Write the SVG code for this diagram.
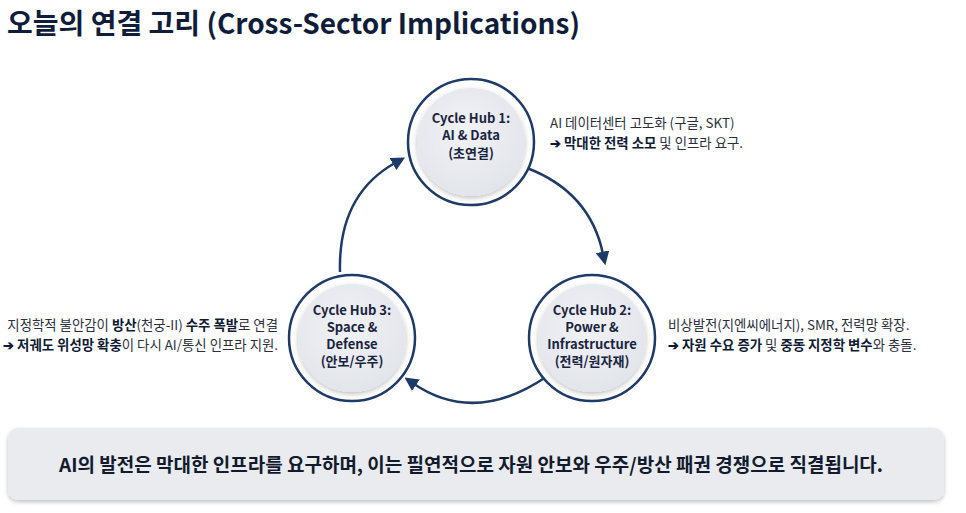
<svg xmlns="http://www.w3.org/2000/svg" width="966" height="513" viewBox="0 0 966 513">
<defs>
<style>
text{font-family:"Noto Sans CJK KR","Noto Sans",sans-serif;}
.title{font-size:28px;font-weight:700;fill:#0f1d3a;}
.hub{font-size:13px;font-weight:700;fill:#1a2440;text-anchor:middle;}
.desc{font-size:13.4px;fill:#2a2f3b;}
.b{font-weight:700;fill:#101a33;}
.ring{fill:#ffffff;stroke:#1e3a66;stroke-width:2.5;}
.core{fill:url(#g);filter:url(#sh);}
.conn{fill:none;stroke:#1e3a66;stroke-width:2.5;marker-end:url(#ah);}
.banner{fill:#e9ebef;filter:url(#bs);}
.btxt{font-size:19px;font-weight:700;fill:#121a2e;text-anchor:middle;}
</style>
<radialGradient id="g" cx="0.45" cy="0.4" r="0.65">
<stop offset="0" stop-color="#f1f2f5"/>
<stop offset="1" stop-color="#e1e4ea"/>
</radialGradient>
<filter id="sh" x="-30%" y="-30%" width="160%" height="160%">
<feDropShadow dx="0" dy="2" stdDeviation="2.5" flood-color="#000" flood-opacity="0.25"/>
</filter>
<filter id="bs" x="-5%" y="-30%" width="110%" height="160%">
<feDropShadow dx="0" dy="2" stdDeviation="2" flood-color="#000" flood-opacity="0.25"/>
</filter>
<marker id="ah" viewBox="0 0 12 12" refX="2" refY="6" markerWidth="5.5" markerHeight="5.5" orient="auto" markerUnits="strokeWidth">
<path d="M0,0 L12,6 L0,12 Z" fill="#1e3a66"/>
</marker>
</defs>
<rect width="966" height="513" fill="#ffffff"/>
<text class="title" x="7" y="34">오늘의 연결 고리 (Cross-Sector Implications)</text>

<g id="connectors">
<path class="conn" d="M527,168 Q590,192 603,254"/>
<path class="conn" d="M546,377 Q475,425 414,384"/>
<path class="conn" d="M340,272 Q338,195 395,163"/>
</g>

<g id="hub1">
<circle class="ring" cx="471" cy="142" r="63"/>
<circle class="core" cx="471" cy="142" r="54"/>
<text class="hub" x="471" y="123">Cycle Hub 1:</text>
<text class="hub" x="471" y="140">AI &amp; Data</text>
<text class="hub" x="471" y="158">(초연결)</text>
</g>

<g id="hub2">
<circle class="ring" cx="592" cy="338" r="63"/>
<circle class="core" cx="592" cy="338" r="54"/>
<text class="hub" x="592" y="315">Cycle Hub 2:</text>
<text class="hub" x="592" y="332">Power &amp;</text>
<text class="hub" x="592" y="349">Infrastructure</text>
<text class="hub" x="592" y="366">(전력/원자재)</text>
</g>

<g id="hub3">
<circle class="ring" cx="352" cy="338" r="63"/>
<circle class="core" cx="352" cy="338" r="54"/>
<text class="hub" x="352" y="315">Cycle Hub 3:</text>
<text class="hub" x="352" y="332">Space &amp;</text>
<text class="hub" x="352" y="349">Defense</text>
<text class="hub" x="352" y="366">(안보/우주)</text>
</g>

<g id="desc1">
<text class="desc" x="550" y="128">AI 데이터센터 고도화 (구글, SKT)</text>
<text class="desc" x="550" y="148"><tspan class="b">➔ 막대한 전력 소모</tspan> 및 인프라 요구.</text>
</g>

<g id="desc2">
<text class="desc" x="668" y="330">비상발전(지엔씨에너지), SMR, 전력망 확장.</text>
<text class="desc" x="668" y="350"><tspan class="b">➔ 자원 수요 증가</tspan> 및 <tspan class="b">중동 지정학 변수</tspan>와 충돌.</text>
</g>

<g id="desc3">
<text class="desc" x="278" y="330" text-anchor="end">지정학적 불안감이 <tspan class="b">방산</tspan>(천궁-II) <tspan class="b">수주 폭발</tspan>로 연결</text>
<text class="desc" x="278" y="350" text-anchor="end"><tspan class="b">➔ 저궤도 위성망 확충</tspan>이 다시 AI/통신 인프라 지원.</text>
</g>

<g id="banner">
<rect class="banner" x="8" y="428" width="936" height="72" rx="10"/>
<text class="btxt" x="471" y="472">AI의 발전은 막대한 인프라를 요구하며, 이는 필연적으로 자원 안보와 우주/방산 패권 경쟁으로 직결됩니다.</text>
</g>
</svg>
